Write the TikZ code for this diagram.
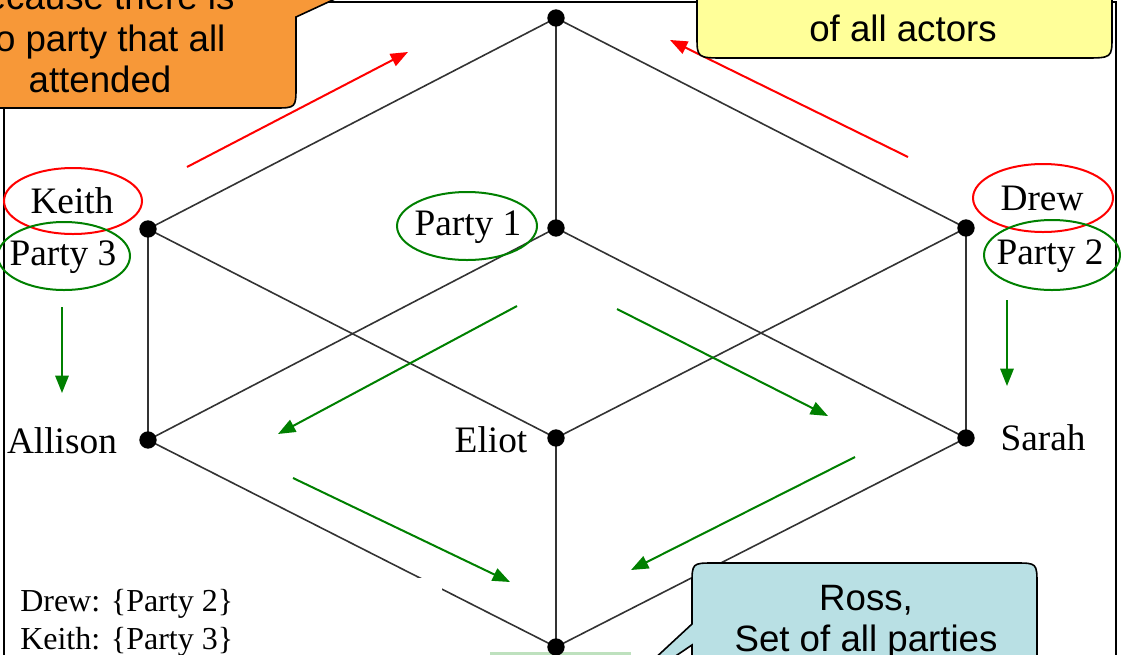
\documentclass[tikz,border=0pt]{standalone}
\usepackage{fontspec}
\setmainfont{Liberation Serif}
\newfontfamily\calloutfont{Liberation Sans}
\usetikzlibrary{arrows.meta}

\definecolor{calloutorange}{RGB}{247,152,56}
\definecolor{calloutyellow}{RGB}{255,255,153}
\definecolor{calloutblue}{RGB}{185,224,228}
\definecolor{ringgreen}{RGB}{0,128,0}
\definecolor{paleband}{RGB}{190,225,190}

\tikzset{
  dot/.style = {circle, fill=black, inner sep=0pt, minimum size=13pt},
  link/.style = {line width=1.2pt, black!80},
  actor/.style = {font=\fontsize{28}{32}\selectfont, inner sep=0pt},
  redring/.style = {draw=red, line width=1.5pt},
  greenring/.style = {draw=ringgreen, line width=1.5pt},
  flow/.style = {line width=1.5pt, -{Triangle[length=13pt,width=10pt]}},
  callout/.style = {draw=black, line width=1.2pt},
  say/.style = {font=\calloutfont\fontsize{27.5}{31}\selectfont, inner sep=0pt, align=center}
}

\begin{document}
\begin{tikzpicture}[x=0.75pt, y=-0.75pt]
\useasboundingbox (0,0) rectangle (1121,654);
\clip (0,0) rectangle (1121,654);

% frame
\draw[line width=1.5pt] (4,2) rectangle (1116,720);

% lattice
\coordinate (top) at (556,18);
\coordinate (k) at (148,229);
\coordinate (p1) at (556,228);
\coordinate (d) at (966,228);
\coordinate (a) at (148,440);
\coordinate (e) at (556,438);
\coordinate (s) at (966,438);
\coordinate (bot) at (556,647);

\foreach \u/\v in {top/k, top/p1, top/d, k/a, k/e, p1/a, p1/s, d/e, d/s, a/bot, e/bot, s/bot}
	\draw[link] (\u) -- (\v);

\fill[white] (10,578) rectangle (442,700);
\fill[paleband] (490,651.5) rectangle (631,700);

\foreach \p in {top, k, p1, d, a, e, s, bot}
	\node[dot] (\p dot) at (\p) {};

% labels
\node[actor] (keith) at (72,201) {Keith};
\node[actor] (party3) at (63,257) {Party 3};
\node[actor] (party1) at (468,227) {Party 1};
\node[actor] (drew) at (1042,198) {Drew};
\node[actor] (party2) at (1050,256) {Party 2};
\node[actor] (allison) at (62,441) {Allison};
\node[actor] (eliot) at (491,440) {Eliot};
\node[actor] (sarah) at (1043,438) {Sarah};

% rings
\draw[redring] (73,201) ellipse [x radius=69, y radius=33];
\draw[greenring] (64,256) ellipse [x radius=66, y radius=34];
\draw[greenring] (467,226) ellipse [x radius=70, y radius=34];
\draw[redring] (1043,198) ellipse [x radius=70, y radius=34];
\draw[greenring] (1052,255) ellipse [x radius=68, y radius=35];

\node[anchor=west, inner sep=0pt, font=\fontsize{24}{28}\selectfont] (drewset) at (20,604) {Drew: \{Party 2\}};
\node[anchor=west, inner sep=0pt, font=\fontsize{24}{28}\selectfont] (keithset) at (20,642) {Keith: \{Party 3\}};

% arrows
\coordinate (r1) at (187,167); \coordinate (r2) at (408,52);
\coordinate (r3) at (908,157); \coordinate (r4) at (670,40);
\draw[flow, red] (r1) -- (r2);
\draw[flow, red] (r3) -- (r4);

\coordinate (g1) at (62,307);   \coordinate (g2) at (62,393);
\coordinate (g3) at (1007,300); \coordinate (g4) at (1007,386);
\coordinate (g5) at (517,306);  \coordinate (g6) at (278,434);
\coordinate (g7) at (617,309);  \coordinate (g8) at (828,416);
\coordinate (g9) at (293,478);  \coordinate (g10) at (510,582);
\coordinate (g11) at (855,457); \coordinate (g12) at (631,570);
\foreach \i/\j in {g1/g2, g3/g4, g5/g6, g7/g8, g9/g10, g11/g12}
	\draw[flow, ringgreen] (\i) -- (\j);

% callouts
\path[callout, fill=calloutorange] (376,-20) -- (296,17) -- (296,86) .. controls (296,108) .. (274,108)
	-- (-120,108) -- (-120,-90) -- (376,-90) -- cycle;
\node[say] (emptynote) at (100,38) {because there is\\no party that all\\attended};

\path[callout, fill=calloutyellow] (697,-60) -- (697,36) .. controls (697,58) .. (725,58)
	-- (1084,58) .. controls (1112,58) .. (1112,36) -- (1112,-60) -- cycle;
\node[say] (allactors) at (903,28) {of all actors};

\path[callout, fill=calloutblue] (610,700) -- (692,624) -- (692,585) .. controls (692,563) .. (714,563)
	-- (1015,563) .. controls (1037,563) .. (1037,585) -- (1037,720) -- (692,720) -- (692,645) -- cycle;
\node[say] (rossnote) at (866,622) {Ross,\\Set of all parties};
\end{tikzpicture}
\end{document}
